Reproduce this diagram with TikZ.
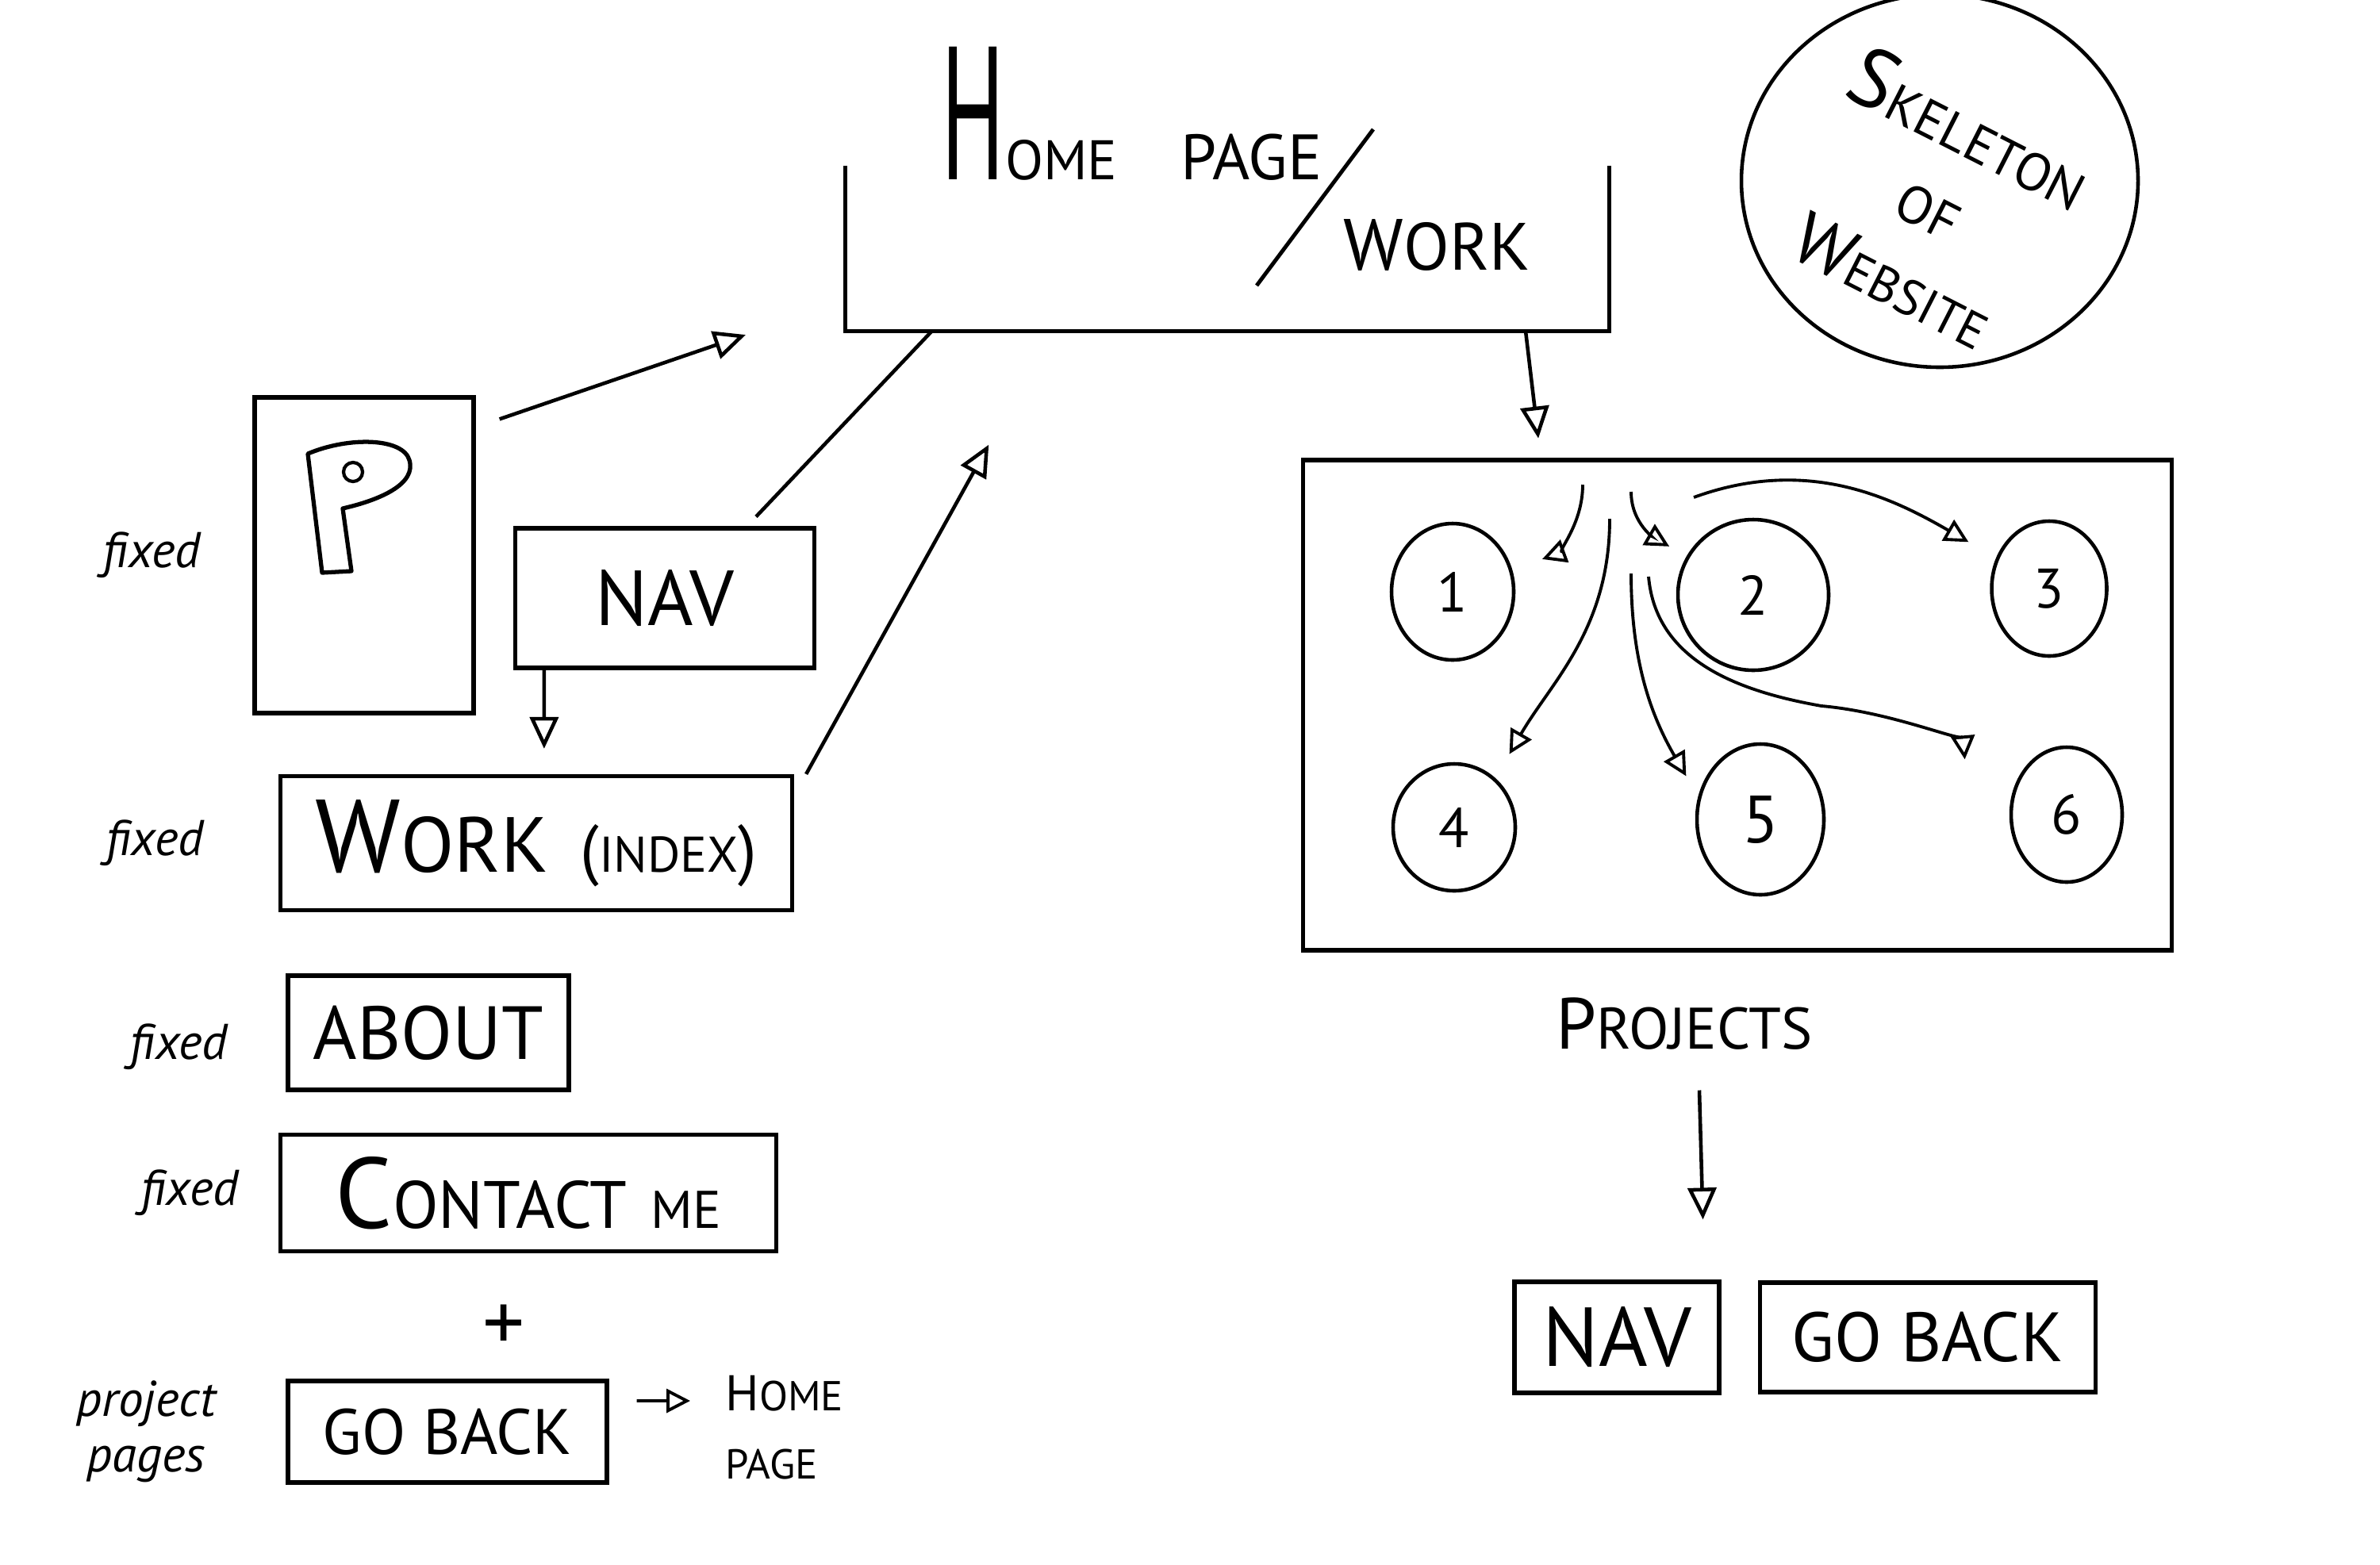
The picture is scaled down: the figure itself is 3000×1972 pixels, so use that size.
\documentclass[tikz,border=0pt]{standalone}
\usepackage{fontspec}
\setmainfont{PT Sans}
\usepackage{graphicx}
\usetikzlibrary{arrows.meta, positioning, shapes.geometric}

\newcommand\fsz[2]{{\fontsize{#1}{#1}\selectfont #2}}

\begin{document}
\begin{tikzpicture}[
  x=0.1mm, y=-0.1mm,
  box/.style={draw, line width=1.5pt, inner sep=0pt, align=center},
  ring/.style={draw, ellipse, line width=1.3pt, inner sep=0pt, font=\fontsize{20}{20}\selectfont},
  arrow/.style={-{Triangle[open, length=4mm, width=3.6mm]}, line width=1.3pt},
  smallarrow/.style={-{Triangle[open, length=3mm, width=3mm]}, line width=1.1pt},
  hand/.style={font=\itshape\fontsize{18}{20}\selectfont, align=center},
]

\useasboundingbox (0,0) rectangle (3000,1972);

% --- Home page / work (box open at the top)
\node[minimum width=96.1mm, minimum height=20.7mm] (home) at (1547,313) {};
\draw[line width=1.5pt] (home.north west) -- (home.south west)
  -- (home.south east) -- (home.north east);
\node[anchor=base west, inner sep=0pt] (hometitle) at (1186,226)
  {\fsz{68}{\scalebox{0.5}[1]{H}}\fsz{20}{OME}\hspace{8mm}\fsz{23}{PAGE}};
\draw[line width=1.4pt] (1731,163) -- (1584,360);
\node[anchor=base west, inner sep=0pt] (worktitle) at (1693,340)
  {\fsz{26}{W}\fsz{24}{ORK}};

% --- Skeleton of website
\node[draw, ellipse, line width=1.3pt, minimum width=50mm, minimum height=47mm] (skel) at (2445,228) {};
\node[rotate=-27, align=center, inner sep=0pt, font=\fontsize{19}{30}\selectfont] (skeltext) at (2436,255)
  {\fsz{30}{S}KELETON\\OF\\\fsz{26}{W}\fsz{18}{EBSITE}};

% --- Left column: logo, nav, pages
\node[box, minimum width=27.6mm, minimum height=39.8mm] (logo) at (459,700) {};
\draw[line width=1.5pt, line join=round] (388,572) -- (406,722) -- (443,720) -- (432,641)
  .. controls (480,630) and (525,610) .. (516,580)
  .. controls (508,552) and (440,550) .. (388,572) -- cycle;
\draw[line width=1.2pt] (445,595) circle[radius=1.2mm];

\node[box, minimum width=37.7mm, minimum height=17.6mm, font=\fontsize{28}{28}\selectfont] (nav) at (838,754) {NAV};

\node[box, minimum width=64.5mm, minimum height=16.9mm] (workidx) at (676,1063)
  {\fsz{37}{W}\fsz{28}{ORK}\hspace{4mm}\fsz{24}{(}\fsz{18}{INDEX}\fsz{24}{)}};
\node[box, minimum width=35.4mm, minimum height=14.4mm, font=\fontsize{27}{27}\selectfont] (about) at (540,1302) {ABOUT};
\node[box, minimum width=62.5mm, minimum height=14.7mm] (contact) at (666,1504)
  {\fsz{36}{C}\fsz{24}{ONTACT}\hspace{3mm}\fsz{19}{ME}};
\node[inner sep=0pt, font=\fontsize{30}{30}\selectfont] (plus) at (635,1674) {+};
\node[box, minimum width=40.2mm, minimum height=12.8mm, font=\fontsize{23}{23}\selectfont] (goback) at (564,1805) {GO BACK};
\node[anchor=north west, inner sep=0pt, align=left, font=\fontsize{15}{24.5}\selectfont] (homenote) at (914,1733)
  {\fsz{18}{H}OME\\PAGE};

% --- Hand notes
\node[hand, left=5.3mm of logo] (fixlogo) {fixed};
\node[hand, left=8.2mm of workidx] (fixwork) {fixed};
\node[hand, left=6.1mm of about, yshift=-1.8mm] (fixabout) {fixed};
\node[hand, left=3.8mm of contact] (fixcontact) {fixed};
\node[hand, left=7.6mm of goback] (fixproject) {project\\pages};

% --- Arrows on the left
\draw[arrow, shorten >=13.3mm] ([xshift=3mm, yshift=-3mm]logo.north east) -- ([yshift=-6.6mm]home.west);
\draw[line width=1.3pt] ([xshift=11.5mm, yshift=1.2mm]nav.north) -- ([xshift=10.9mm]home.south west);
\draw[arrow, shorten >=16.4mm] ([xshift=1.5mm]workidx.north east) -- ([xshift=26mm]home.south west);
\draw[arrow, shorten >=3.2mm] ([xshift=3.9mm]nav.south west) -- ([xshift=33.5mm]workidx.north west);
\draw[smallarrow] ([xshift=3.5mm, yshift=3.9mm]goback.east) -- ([xshift=-4.4mm, yshift=-3.3mm]homenote.north west);

% --- Projects
\node[box, minimum width=109.5mm, minimum height=61.8mm] (proj) at (2190,889) {};
\node[ring, minimum width=15.4mm, minimum height=17.2mm] (c1) at (1831,746) {1};
\node[ring, minimum width=19mm, minimum height=19mm] (c2) at (2210,750) {2};
\node[ring, minimum width=14.5mm, minimum height=17mm] (c3) at (2583,742) {3};
\node[ring, minimum width=15.4mm, minimum height=16mm] (c4) at (1833,1043) {4};
\node[ring, minimum width=16mm, minimum height=19mm, font=\fontsize{24}{24}\selectfont] (c5) at (2219,1033) {5};
\node[ring, minimum width=14mm, minimum height=17mm] (c6) at (2605,1027) {6};

\coordinate (src1) at (1995,611);
\coordinate (src2) at (2056,620);
\coordinate (src3) at (2135,627);
\coordinate (src4) at (2029,654);
\coordinate (src5) at (2056,723);
\coordinate (src6) at (2078,727);

\draw[smallarrow, shorten >=4mm] (src1) to[out=-90, in=20] (c1.20);
\draw[smallarrow, shorten >=2.5mm] (src2) to[out=-90, in=150] (c2.150);
\draw[smallarrow, shorten >=4mm] (src3) to[out=20, in=150] (c3.150);
\draw[smallarrow, shorten >=3.5mm] (src4) to[out=-90, in=60] (c4.50);
\draw[smallarrow, shorten >=3mm] (src5) to[out=-90, in=120] (c5.160);
\draw[smallarrow, shorten >=7mm] (src6) to[out=-85, in=170] (2296,890)
  to[out=-5, in=95] ([xshift=-5mm]c6.west);

\draw[arrow, shorten >=2.5mm] ([xshift=37.6mm]home.south) -- ([xshift=-24.8mm]proj.north);

\node[inner sep=0pt] (projlabel) at (2123,1291) {\fsz{26}{P}\fsz{21}{ROJECTS}};
\node[box, minimum width=25.8mm, minimum height=14mm, font=\fontsize{30}{30}\selectfont] (navr) at (2038,1686) {NAV};
\node[box, minimum width=42.3mm, minimum height=13.8mm, font=\fontsize{25}{25}\selectfont, right=4.6mm of navr] (gobackr) {GO BACK};
\draw[arrow, shorten >=7.6mm] ([xshift=1.9mm, yshift=-5mm]projlabel.south) -- ([xshift=-2.1mm]navr.north east);

\end{tikzpicture}
\end{document}
